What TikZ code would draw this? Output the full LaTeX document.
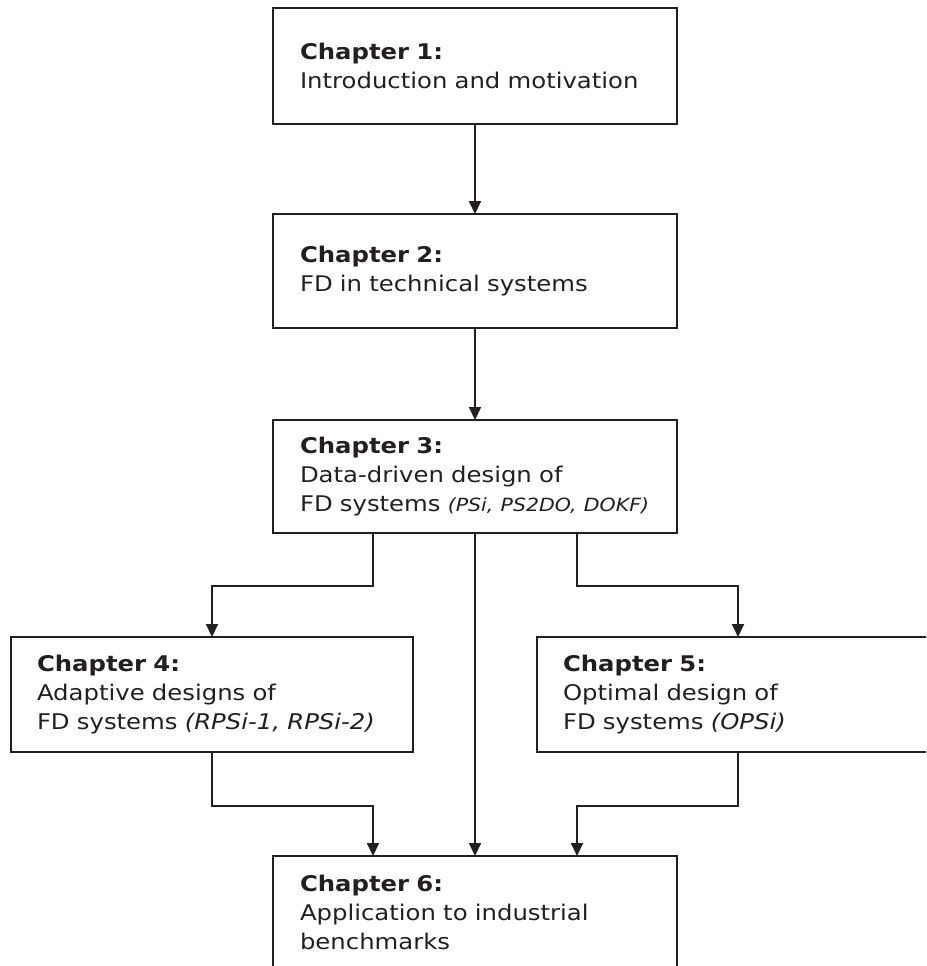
\documentclass[tikz,border=0pt]{standalone}
\usepackage{fontspec}
\setmainfont[FakeStretch=1.127]{DejaVu Sans}
\usetikzlibrary{arrows.meta}
\definecolor{ink}{HTML}{231F20}
\begin{document}
\begin{tikzpicture}[x=1pt,y=-1pt,
  chap/.style={draw=ink, line width=2pt, text=ink, anchor=north west,
    inner sep=0pt, outer sep=0pt, align=left, text width=#1,
    font=\fontsize{21.6pt}{29pt}\selectfont},
  chap/.default=404pt,
  link/.style={draw=ink, line width=2pt, -{Triangle[width=12pt,length=13pt]}}]
\path[use as bounding box, clip] (0,0) rectangle (926,966);

% chapter boxes (text indented from the left border)
\node[chap, minimum height=116pt] (c1) at (273,8)
  {\leftskip=27pt \textbf{Chapter 1:}\\Introduction and motivation\par};
\node[chap, minimum height=114pt] (c2) at (273,214)
  {\leftskip=27pt \textbf{Chapter 2:}\\FD in technical systems\par};
\node[chap, minimum height=113pt] (c3) at (273,420)
  {\leftskip=27pt \textbf{Chapter 3:}\\Data-driven design of\\FD systems {\fontsize{18.2pt}{29pt}\selectfont\itshape (PSi, PS2DO, DOKF)}\par};
\node[chap=402pt, minimum height=115pt] (c4) at (11,637)
  {\leftskip=26pt \textbf{Chapter 4:}\\Adaptive designs of\\FD systems \textit{(RPSi-1, RPSi-2)}\par};
\node[chap=402pt, minimum height=115pt] (c5) at (537,637)
  {\leftskip=26pt \textbf{Chapter 5:}\\Optimal design of\\FD systems \textit{(OPSi)}\par};
\node[chap, minimum height=112pt] (c6) at (273,856)
  {\leftskip=27pt \textbf{Chapter 6:}\\Application to industrial\\benchmarks\par};

% corner points of the routed connectors
\coordinate (j4) at (212,586);
\coordinate (j5) at (738,586);
\coordinate (k4) at (212,806);
\coordinate (k5) at (738,806);

% connectors
\draw[link] (c1) -- (c2);
\draw[link] (c2) -- (c3);
\draw[link] ([xshift=100pt]c3.south west) |- (j4) -- (c4.north);
\draw[link] ([xshift=304pt]c3.south west) |- (j5) -- (c5.north);
\draw[link] (c3) -- (c6);
\draw[link] (c4.south) -- (k4) -| ([xshift=100pt]c6.north west);
\draw[link] (c5.south) -- (k5) -| ([xshift=304pt]c6.north west);
\end{tikzpicture}
\end{document}
